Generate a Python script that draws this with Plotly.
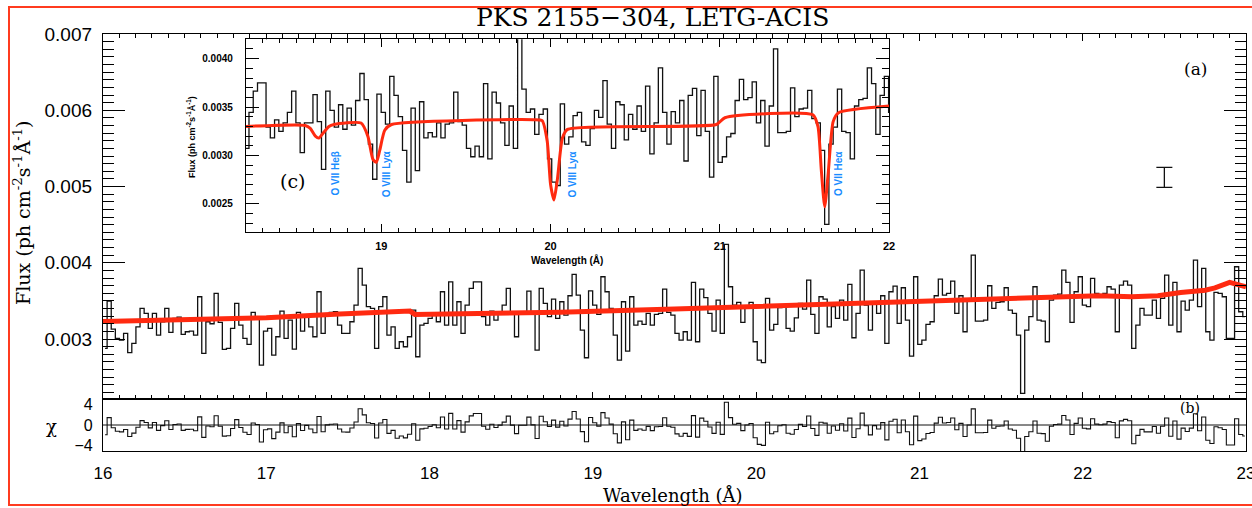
import numpy as np
import plotly.graph_objects as go

# ---------------- data ----------------
# binned LETG-ACIS flux (ph cm^-2 s^-1 A^-1), contiguous bins from 16 A to 23 A
BIN_START = 16.0
BIN_WIDTH = 0.0252
FLUX = [
    0.002878, 0.003498, 0.003131, 0.003009, 0.002987, 0.003074, 0.002821, 0.002943, 0.003161, 0.003402,
    0.003336, 0.003140, 0.003336, 0.003052, 0.003227, 0.003402, 0.003087, 0.003271, 0.003288, 0.003061,
    0.003096, 0.003105, 0.003052, 0.003555, 0.002812, 0.003227, 0.003201, 0.003598, 0.003218, 0.002864,
    0.002878, 0.003140, 0.003467, 0.003183, 0.003009, 0.002930, 0.003349, 0.003293, 0.002659, 0.003105,
    0.003140, 0.002790, 0.003030, 0.003367, 0.003009, 0.003249, 0.002869, 0.003349, 0.003105, 0.003293,
    0.003161, 0.003030, 0.003620, 0.003074, 0.003323, 0.003349, 0.003358, 0.003183,
    0.003074, 0.003074, 0.003227, 0.003445, 0.003926, 0.003708, 0.003424, 0.003402, 0.002878, 0.003424,
    0.003555, 0.003052, 0.003161, 0.002878, 0.002965, 0.002899, 0.003030, 0.003380, 0.002768, 0.003183,
    0.003205, 0.003271, 0.003336, 0.003227, 0.003620, 0.003183, 0.003751, 0.003183, 0.003489, 0.003074,
    0.003445, 0.003664, 0.003751, 0.003751, 0.003293, 0.003183, 0.003367, 0.003249, 0.003336, 0.003445,
    0.003664, 0.003336, 0.003030, 0.003336, 0.003336, 0.003629, 0.003349, 0.002856, 0.003664, 0.003467,
    0.003293, 0.003524, 0.003271, 0.003489, 0.003314, 0.003568,
    0.003847, 0.003577, 0.003118, 0.002755, 0.003633, 0.003445, 0.003323, 0.003817, 0.003620, 0.003402,
    0.003052, 0.002725, 0.003489, 0.002843, 0.003555, 0.003183, 0.003236, 0.003192, 0.003336, 0.003183,
    0.003323, 0.003336, 0.003655, 0.003349, 0.003314, 0.003074, 0.002987, 0.003096, 0.002987, 0.003743,
    0.002965, 0.003655, 0.003542, 0.003336, 0.003105, 0.003511, 0.003074, 0.004241, 0.003686, 0.003445,
    0.003480, 0.003218, 0.003424, 0.003480, 0.002965, 0.002725, 0.002690, 0.003533, 0.003118, 0.003192,
    0.003411, 0.003445, 0.003140, 0.003105,
    0.003279, 0.003467, 0.003393, 0.003773, 0.003323, 0.003074, 0.003555, 0.003524, 0.003161, 0.003424,
    0.003271, 0.003511, 0.003249, 0.003716, 0.003017, 0.003336, 0.003904, 0.003445, 0.003118, 0.003454,
    0.003336, 0.003568, 0.002943, 0.003620, 0.003694, 0.003205, 0.003673, 0.003249, 0.002777, 0.003817,
    0.002930, 0.002987, 0.003192, 0.003227, 0.003568, 0.003786, 0.003577, 0.003598, 0.003760, 0.003336,
    0.003568, 0.003096, 0.003511, 0.004101, 0.003236, 0.003236, 0.003249, 0.003699, 0.003402, 0.003480,
    0.003489, 0.003673, 0.003380, 0.003336, 0.003052, 0.002288,
    0.003118, 0.003293, 0.003686, 0.003249, 0.003236, 0.002965, 0.003511, 0.003577, 0.003590, 0.003904,
    0.003743, 0.003218, 0.003620, 0.003817, 0.003445, 0.003424, 0.003795, 0.003598, 0.003577, 0.003598,
    0.003686, 0.003655, 0.003096, 0.003708, 0.003760, 0.003708, 0.002878, 0.003183, 0.003402, 0.003314,
    0.003314, 0.003511, 0.003271, 0.003533, 0.003839, 0.003183, 0.003743, 0.003096, 0.003498, 0.003380,
    0.003511, 0.004035, 0.003424, 0.003926, 0.003096, 0.002987, 0.003612, 0.003598, 0.003555, 0.003009,
    0.003009, 0.003948, 0.003358, 0.003293,
]

# continuum model (panel a)
MODEL_WL = [16.0, 16.5, 17.0, 17.45, 17.88, 17.91, 18.8, 19.5, 20.2, 20.9, 21.6, 21.8,
            22.1, 22.3, 22.46, 22.6, 22.75, 22.81, 22.9, 23.0]
MODEL_FLUX = [0.003230, 0.003255, 0.003280, 0.003327, 0.003367, 0.003323, 0.003350, 0.003395,
              0.003440, 0.003490, 0.003530, 0.003555, 0.003568, 0.003555, 0.003568, 0.003610,
              0.003640, 0.003670, 0.003743, 0.003686]

# model with absorption lines (panel c)
INSET_MODEL_WL = [18.2, 18.55, 18.58, 18.61, 18.63, 18.66, 18.69, 18.72, 18.88, 18.92, 18.95,
                  18.97, 18.99, 19.02, 19.06, 19.9, 19.95, 19.98, 20.0, 20.02, 20.04, 20.07,
                  20.1, 20.98, 21.03, 21.55, 21.58, 21.6, 21.62, 21.64, 21.67, 21.7, 22.0]
INSET_MODEL_FLUX = [0.00330, 0.00331, 0.00328, 0.00320, 0.00318, 0.00324, 0.00330, 0.00332,
                    0.003335, 0.00320, 0.00296, 0.00293, 0.00305, 0.00326, 0.00332, 0.00337,
                    0.00336, 0.00315, 0.00270, 0.00254, 0.00275, 0.00318, 0.00327, 0.00332,
                    0.00339, 0.00342, 0.00330, 0.00285, 0.00247, 0.00280, 0.00335, 0.00344,
                    0.00351]

# residual scale (chi = (data - continuum) / sigma)
SIGMA = 0.000185

# representative error bar
ERR_WL = [22.5]
ERR_CENTER = [0.00512]
ERR_HALF = [0.00013]

# absorption line labels in the inset
LINE_WL = [18.73, 19.035, 20.13, 21.705]
LINE_LABEL_FLUX = 0.00281
LINE_NAMES = ["O VII He\u03b2", "O VIII Ly\u03b1", "O VIII Ly\u03b1", "O VII He\u03b1"]

MAIN_X_TICKS = [16, 17, 18, 19, 20, 21, 22, 23]
CHI_TICKS = [-4, 0, 4]
CHI_TICK_TEXT = ["\u22124", "0", "4"]

# ---------------- layout helpers ----------------
W, H = 1252, 508


def px(x):
    return x / W


def py(y):
    return 1 - y / H


SERIF = "DejaVu Serif"
SANS = "Liberation Sans"
RED = "#ff2a10"
BORDER = "#ff3b1f"
BLUE = "#1a8cff"

flux = np.array(FLUX)
centers = BIN_START + BIN_WIDTH / 2 + BIN_WIDTH * np.arange(len(flux))
chi = (flux - np.interp(centers, MODEL_WL, MODEL_FLUX)) / SIGMA

fig = go.Figure()

# panel a
fig.add_trace(go.Scatter(y=FLUX, x0=BIN_START + BIN_WIDTH / 2, dx=BIN_WIDTH, mode="lines",
                         line=dict(shape="hvh", color="#111111", width=1.3),
                         xaxis="x", yaxis="y", hoverinfo="skip"))
fig.add_trace(go.Scatter(x=MODEL_WL, y=MODEL_FLUX, mode="lines",
                         line=dict(color=RED, width=5), xaxis="x", yaxis="y", hoverinfo="skip"))
fig.add_trace(go.Scatter(x=ERR_WL, y=ERR_CENTER, mode="markers",
                         marker=dict(size=1, color="rgba(0,0,0,0)"),
                         error_y=dict(type="data", array=ERR_HALF, width=8, thickness=1.3,
                                      color="#111111"),
                         xaxis="x", yaxis="y", hoverinfo="skip"))

# panel b
fig.add_trace(go.Scatter(y=chi, x0=BIN_START + BIN_WIDTH / 2, dx=BIN_WIDTH, mode="lines",
                         line=dict(shape="hvh", color="#111111", width=1.1),
                         xaxis="x2", yaxis="y2", hoverinfo="skip"))

# panel c (inset)
fig.add_trace(go.Scatter(y=FLUX, x0=BIN_START + BIN_WIDTH / 2, dx=BIN_WIDTH, mode="lines",
                         line=dict(shape="hvh", color="#111111", width=1.3),
                         xaxis="x3", yaxis="y3", hoverinfo="skip"))
fig.add_trace(go.Scatter(x=INSET_MODEL_WL, y=INSET_MODEL_FLUX, mode="lines",
                         line=dict(color=RED, width=3, shape="spline", smoothing=0.6),
                         xaxis="x3", yaxis="y3", hoverinfo="skip"))

axis_common = dict(showgrid=False, zeroline=False, showline=True, linecolor="black",
                   linewidth=1.3, tickcolor="black", automargin=False)

fig.update_layout(
    width=W, height=H, margin=dict(l=0, r=0, t=0, b=0, pad=0, autoexpand=False),
    paper_bgcolor="white", plot_bgcolor="white", showlegend=False,
    xaxis=dict(domain=[px(103), px(1246)], range=[16, 23], anchor="y",
               showticklabels=False, ticks="inside", ticklen=7, tickwidth=1,
               tickvals=MAIN_X_TICKS, mirror="ticks",
               minor=dict(dtick=0.1, tick0=16, ticks="inside", ticklen=4, tickcolor="black"),
               **axis_common),
    yaxis=dict(domain=[py(399), py(34)], range=[0.002214, 0.007], anchor="x",
               ticks="inside", ticklen=22, tickwidth=1, dtick=0.001, tick0=0,
               tickformat=".3f", mirror="ticks", ticklabelstandoff=6,
               tickfont=dict(family=SANS, size=19, color="black"),
               minor=dict(dtick=0.0001, tick0=0, ticks="inside", ticklen=11, tickcolor="black"),
               **axis_common),
    xaxis2=dict(domain=[px(103), px(1246)], range=[16, 23], anchor="y2",
                ticks="", tickvals=MAIN_X_TICKS, mirror=True, ticklabelstandoff=6,
                ticklabeloverflow="allow",
                tickfont=dict(family=SANS, size=17, color="black"), **axis_common),
    yaxis2=dict(domain=[py(451), py(399)], range=[-5.1, 5.1], anchor="x2",
                ticks="", tickvals=CHI_TICKS, ticktext=CHI_TICK_TEXT, mirror=True,
                ticklabelstandoff=6,
                tickfont=dict(family=SANS, size=16, color="black"), **axis_common),
    xaxis3=dict(domain=[px(246), px(889)], range=[18.2, 22.0], anchor="y3",
                ticks="inside", ticklen=8, tickwidth=1, dtick=1, tick0=0, mirror="ticks",
                ticklabelstandoff=4,
                tickfont=dict(family=SANS, size=11, color="black", weight="bold"),
                minor=dict(dtick=0.1, tick0=0, ticks="inside", ticklen=4, tickcolor="black"),
                **axis_common),
    yaxis3=dict(domain=[py(232), py(39.3)], range=[0.00221, 0.0042], anchor="x3",
                ticks="inside", ticklen=13, tickwidth=1, dtick=0.0005, tick0=0,
                tickformat=".4f", mirror="ticks", ticklabelstandoff=10,
                tickfont=dict(family=SANS, size=10, color="black", weight="bold"),
                minor=dict(dtick=0.0001, tick0=0, ticks="inside", ticklen=7, tickcolor="black"),
                **axis_common),
)

# chi = 0 reference line
fig.add_shape(type="line", xref="x2 domain", yref="y2", x0=0, x1=1, y0=0, y1=0,
              line=dict(color="#111111", width=1))
# red frame
fig.add_shape(type="rect", xref="paper", yref="paper", x0=px(9), x1=px(1262),
              y0=py(505), y1=py(7), line=dict(color=BORDER, width=2), layer="above")

ann = [
    dict(text="PKS 2155\u2212304, LETG-ACIS", x=px(652), y=py(17), size=25, family=SERIF),
    dict(text="Wavelength (\u00c5)", x=px(673), y=py(495), size=18, family=SERIF),
    dict(text="Flux (ph cm<sup>-2</sup>s<sup>-1</sup>\u00c5<sup>-1</sup>)", x=px(22), y=py(213),
         size=19, family=SERIF, angle=-90),
    dict(text="\u03c7", x=px(51), y=py(426), size=18, family=SERIF),
    dict(text="(a)", x=px(1195), y=py(69), size=17, family=SERIF),
    dict(text="(b)", x=px(1190), y=py(408), size=14, family=SERIF),
    dict(text="(c)", x=px(292), y=py(181), size=19, family=SERIF),
    dict(text="<b>Wavelength (\u00c5)</b>", x=px(567), y=py(260), size=10, family=SANS),
    dict(text="<b>Flux (ph cm<sup>-2</sup>s<sup>-1</sup>\u00c5<sup>-1</sup>)</b>", x=px(191),
         y=py(137), size=9, family=SANS, angle=-90),
]
for a in ann:
    fig.add_annotation(text=a["text"], x=a["x"], y=a["y"], xref="paper", yref="paper",
                       xanchor="center", yanchor="middle",
                       showarrow=False, textangle=a.get("angle", 0),
                       font=dict(family=a["family"], size=a["size"], color="black"))

for wl, name in zip(LINE_WL, LINE_NAMES):
    fig.add_annotation(text="<b>" + name + "</b>", x=wl, y=LINE_LABEL_FLUX, xref="x3", yref="y3",
                       xanchor="center", yanchor="middle",
                       showarrow=False, textangle=-90,
                       font=dict(family=SANS, size=10, color=BLUE))

fig.write_html("out.html")
